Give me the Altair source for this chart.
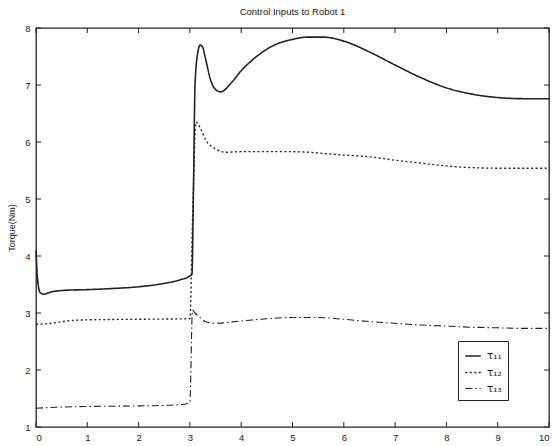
import altair as alt
import pandas as pd

# tau_11 (solid)
t11 = [0, 0.03, 0.08, 0.15, 0.3, 0.6, 1.0, 1.5, 2.0, 2.5, 2.8, 3.0, 3.04, 3.07, 3.1, 3.15, 3.2, 3.25, 3.3, 3.4,
       3.5, 3.6, 3.8, 4.0, 4.3, 4.6, 5.0, 5.3, 5.6, 6.0, 6.5, 7.0, 7.5, 8.0, 8.5, 9.0, 9.5, 10.0]
v11 = [4.1, 3.6, 3.36, 3.33, 3.37, 3.40, 3.41, 3.43, 3.46, 3.52, 3.58, 3.65, 3.68, 5.2, 7.0, 7.55, 7.70, 7.66, 7.48, 7.10,
       6.92, 6.88, 7.03, 7.25, 7.50, 7.68, 7.80, 7.84, 7.84, 7.77, 7.58, 7.35, 7.13, 6.95, 6.84, 6.78, 6.76, 6.76]

# tau_12 (dotted)
t12 = [0, 0.3, 0.6, 1.0, 2.0, 3.0, 3.05, 3.12, 3.2, 3.3, 3.5, 3.7, 4.0, 5.0, 6.0, 6.5, 7.0, 7.5, 8.0, 8.5, 9.0, 9.5, 10.0]
v12 = [2.80, 2.82, 2.86, 2.88, 2.89, 2.90, 4.6, 6.35, 6.25, 6.05, 5.88, 5.82, 5.83, 5.83, 5.77, 5.74, 5.68, 5.63, 5.58,
       5.55, 5.54, 5.54, 5.54]

# tau_13 (dash-dot)
t13 = [0, 0.5, 1.0, 2.0, 2.5, 2.9, 3.0, 3.05, 3.1, 3.2, 3.3, 3.5, 4.0, 4.5, 5.0, 5.5, 6.0, 6.5, 7.0, 7.5, 8.0, 8.5,
       9.0, 9.5, 10.0]
v13 = [1.33, 1.35, 1.36, 1.37, 1.38, 1.40, 1.44, 3.05, 3.0, 2.92, 2.85, 2.82, 2.86, 2.90, 2.92, 2.92, 2.89, 2.85,
       2.82, 2.79, 2.77, 2.75, 2.74, 2.73, 2.73]

labels = ["τ₁₁", "τ₁₂", "τ₁₃"]
x_ticks = list(range(0, 11))
y_ticks = list(range(1, 9))

rows = []
for name, ts, vs in zip(labels, [t11, t12, t13], [v11, v12, v13]):
    for t, v in zip(ts, vs):
        rows.append({"series": name, "t": t, "v": v})
df = pd.DataFrame(rows)

FONT = "Liberation Sans"
INK = "#222222"
W, H = 513, 399

xs = alt.Scale(domain=[0, 10], nice=False, zero=False)
ys = alt.Scale(domain=[1, 8], nice=False, zero=False)

x_axis = alt.Axis(values=x_ticks, tickSize=0, grid=False, title=None, labelFontSize=9.5, labelPadding=5,
                  domain=False, labelColor=INK, labelFont=FONT)
y_axis = alt.Axis(values=y_ticks, tickSize=0, grid=False, title="Torque(Nm)", labelFontSize=9.5, labelPadding=6,
                  domain=False, labelColor=INK, labelFont=FONT, titleFont=FONT, titleFontSize=9,
                  titleFontWeight="normal", titleColor=INK, titlePadding=8)

lines = alt.Chart(df).mark_line(color=INK, interpolate="monotone").encode(
    x=alt.X("t:Q", scale=xs, axis=x_axis),
    y=alt.Y("v:Q", scale=ys, axis=y_axis),
    strokeDash=alt.StrokeDash("series:N", sort=labels,
                              scale=alt.Scale(domain=labels, range=[[1, 0], [2, 2.5], [7, 3, 1.5, 3]]),
                              legend=alt.Legend(title=None, orient="none", legendX=422, legendY=313,
                                                strokeColor=INK, fillColor="white", padding=6,
                                                symbolType="stroke", symbolStrokeColor=INK,
                                                symbolSize=240, symbolStrokeWidth=1.3,
                                                labelFontSize=10.5, labelFont="DejaVu Sans", labelColor=INK,
                                                rowPadding=2, labelOffset=5)),
    strokeWidth=alt.StrokeWidth("series:N", scale=alt.Scale(domain=labels, range=[1.6, 1.1, 1.2]), legend=None),
    order="t:Q",
)

xt = pd.DataFrame({"t": x_ticks})
yt = pd.DataFrame({"v": y_ticks})

bx = alt.Chart(xt).mark_rule(color=INK, strokeWidth=1).encode(
    x=alt.X("t:Q", scale=xs, axis=x_axis), y=alt.value(H), y2=alt.value(H - 5))
tx = alt.Chart(xt).mark_rule(color=INK, strokeWidth=1).encode(
    x=alt.X("t:Q", scale=xs, axis=x_axis), y=alt.value(0), y2=alt.value(5))
ly = alt.Chart(yt).mark_rule(color=INK, strokeWidth=1).encode(
    y=alt.Y("v:Q", scale=ys, axis=y_axis), x=alt.value(0), x2=alt.value(5))
ry = alt.Chart(yt).mark_rule(color=INK, strokeWidth=1).encode(
    y=alt.Y("v:Q", scale=ys, axis=y_axis), x=alt.value(W), x2=alt.value(W - 5))

chart = alt.layer(lines, bx, tx, ly, ry).properties(
    width=W, height=H,
    title=alt.TitleParams("Control Inputs to Robot 1", fontSize=9.5, fontWeight="normal",
                          font=FONT, color=INK, offset=7, anchor="middle"),
    padding={"left": 36, "top": 28, "right": 9, "bottom": 19},
    autosize=alt.AutoSizeParams(type="none"),
    background="white",
).configure_view(stroke=INK, strokeWidth=1.3)

chart.save("out.html", embed_options={"renderer": "svg", "actions": False})
